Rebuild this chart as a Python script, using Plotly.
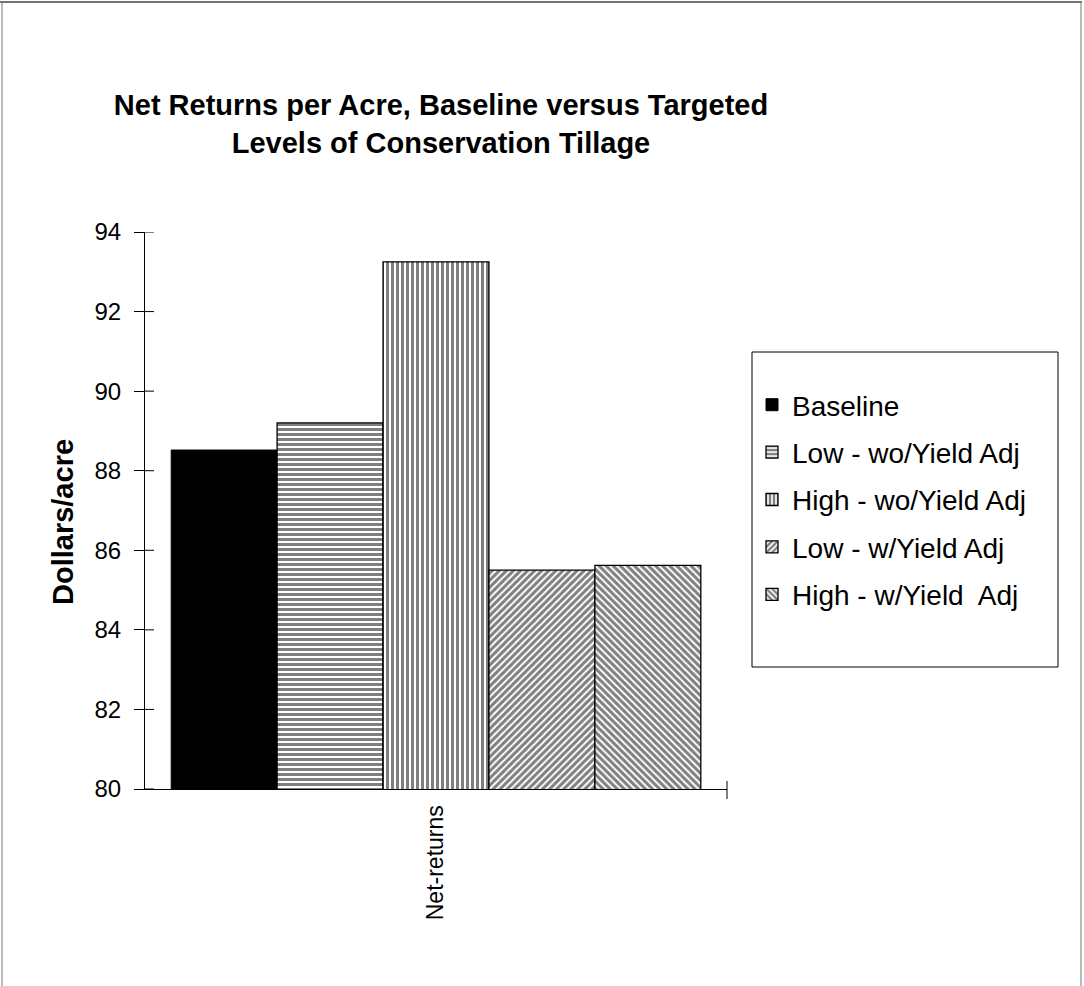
import plotly.graph_objects as go

category = ["Net-returns"]
series_names = ["Baseline", "Low - wo/Yield Adj", "High - wo/Yield Adj",
                "Low - w/Yield Adj", "High - w/Yield  Adj"]
series_values = [88.52, 89.2, 93.25, 85.5, 85.62]
patterns = ["", "-", "|", "/", "\\"]
y_ticks = [80, 82, 84, 86, 88, 90, 92, 94]
y_title = "Dollars/acre"
chart_title = "Net Returns per Acre, Baseline versus Targeted<br>Levels of Conservation Tillage"

W, H = 1084, 986
L, R, T, B = 145, 727, 232, 789
PW, PH = R - L, B - T


def px_x(x):
    return (x - L) / PW


def px_y(y):
    return (B - y) / PH


fig = go.Figure()
for i, (name, val, pat) in enumerate(zip(series_names, series_values, patterns)):
    if pat == "":
        marker = dict(color="black", line=dict(color="black", width=1))
    else:
        marker = dict(color="white", line=dict(color="black", width=1.3),
                      pattern=dict(shape=pat, fgcolor="black", bgcolor="white",
                                   size=5, solidity=0.6, fillmode="overlay"))
    fig.add_trace(go.Bar(x=category, y=[val], name=name, marker=marker,
                         legendgroup=f"g{i}"))

fig.update_layout(
    width=W, height=H,
    barmode="group", bargap=0.09, bargroupgap=0,
    plot_bgcolor="white", paper_bgcolor="white",
    font=dict(family="Liberation Sans, Arial", color="black", size=24),
    margin=dict(l=L, r=W - R, t=T, b=H - B, autoexpand=False),
    title=dict(text=f"<b>{chart_title}</b>",
               x=441 / W, xanchor="center", xref="container",
               y=1 - 115 / H, yanchor="top", yref="container",
               font=dict(size=29, family="Liberation Sans, Arial", color="black")),
    yaxis=dict(range=[80, 94], tickvals=y_ticks, ticktext=[str(v) for v in y_ticks],
               showgrid=False, zeroline=False, showline=True, linecolor="black", linewidth=1,
               ticks="outside", ticklen=10, tickcolor="black", tickfont=dict(size=24),
               ticklabelstandoff=8),
    xaxis=dict(showgrid=False, zeroline=False, showline=True, linecolor="black", linewidth=1,
               ticks="", tickangle=-90, tickfont=dict(size=23), ticklabelstandoff=6),
    legend=dict(x=px_x(752), xanchor="left", y=px_y(380), yanchor="top",
                borderwidth=0, bgcolor="rgba(0,0,0,0)",
                font=dict(size=28), tracegroupgap=8, itemwidth=30),
)

# y-axis title (placed slightly below the axis centre, as in the original)
fig.add_annotation(text=f"<b>{y_title}</b>", textangle=-90, showarrow=False,
                   xref="paper", yref="paper", x=px_x(63), y=px_y(522),
                   xanchor="center", yanchor="middle", font=dict(size=29))

# inside half of the crossing y-axis tick marks, at the tick values
for v in y_ticks:
    fig.add_shape(type="line", xref="paper", yref="y", x0=0, x1=px_x(L + 9),
                  y0=v, y1=v, line=dict(color="black", width=1))

# legend frame
fig.add_shape(type="rect", xref="paper", yref="paper",
              x0=px_x(752), x1=px_x(1058), y0=px_y(352), y1=px_y(667),
              line=dict(color="black", width=1))
# right end tick of the category axis
fig.add_shape(type="line", xref="paper", yref="paper", x0=1, x1=1,
              y0=px_y(781), y1=px_y(799), line=dict(color="black", width=1))
# Outer border lines of the scanned page
fig.add_shape(type="line", xref="paper", yref="paper", x0=px_x(0), x1=px_x(W - 2),
              y0=px_y(2), y1=px_y(2), line=dict(color="#444", width=1.5))
fig.add_shape(type="line", xref="paper", yref="paper", x0=px_x(2), x1=px_x(2),
              y0=px_y(2), y1=px_y(H), line=dict(color="#777", width=1))
fig.add_shape(type="line", xref="paper", yref="paper", x0=px_x(W - 3), x1=px_x(W - 3),
              y0=px_y(2), y1=px_y(H), line=dict(color="#777", width=1))

fig.write_html("out.html")
